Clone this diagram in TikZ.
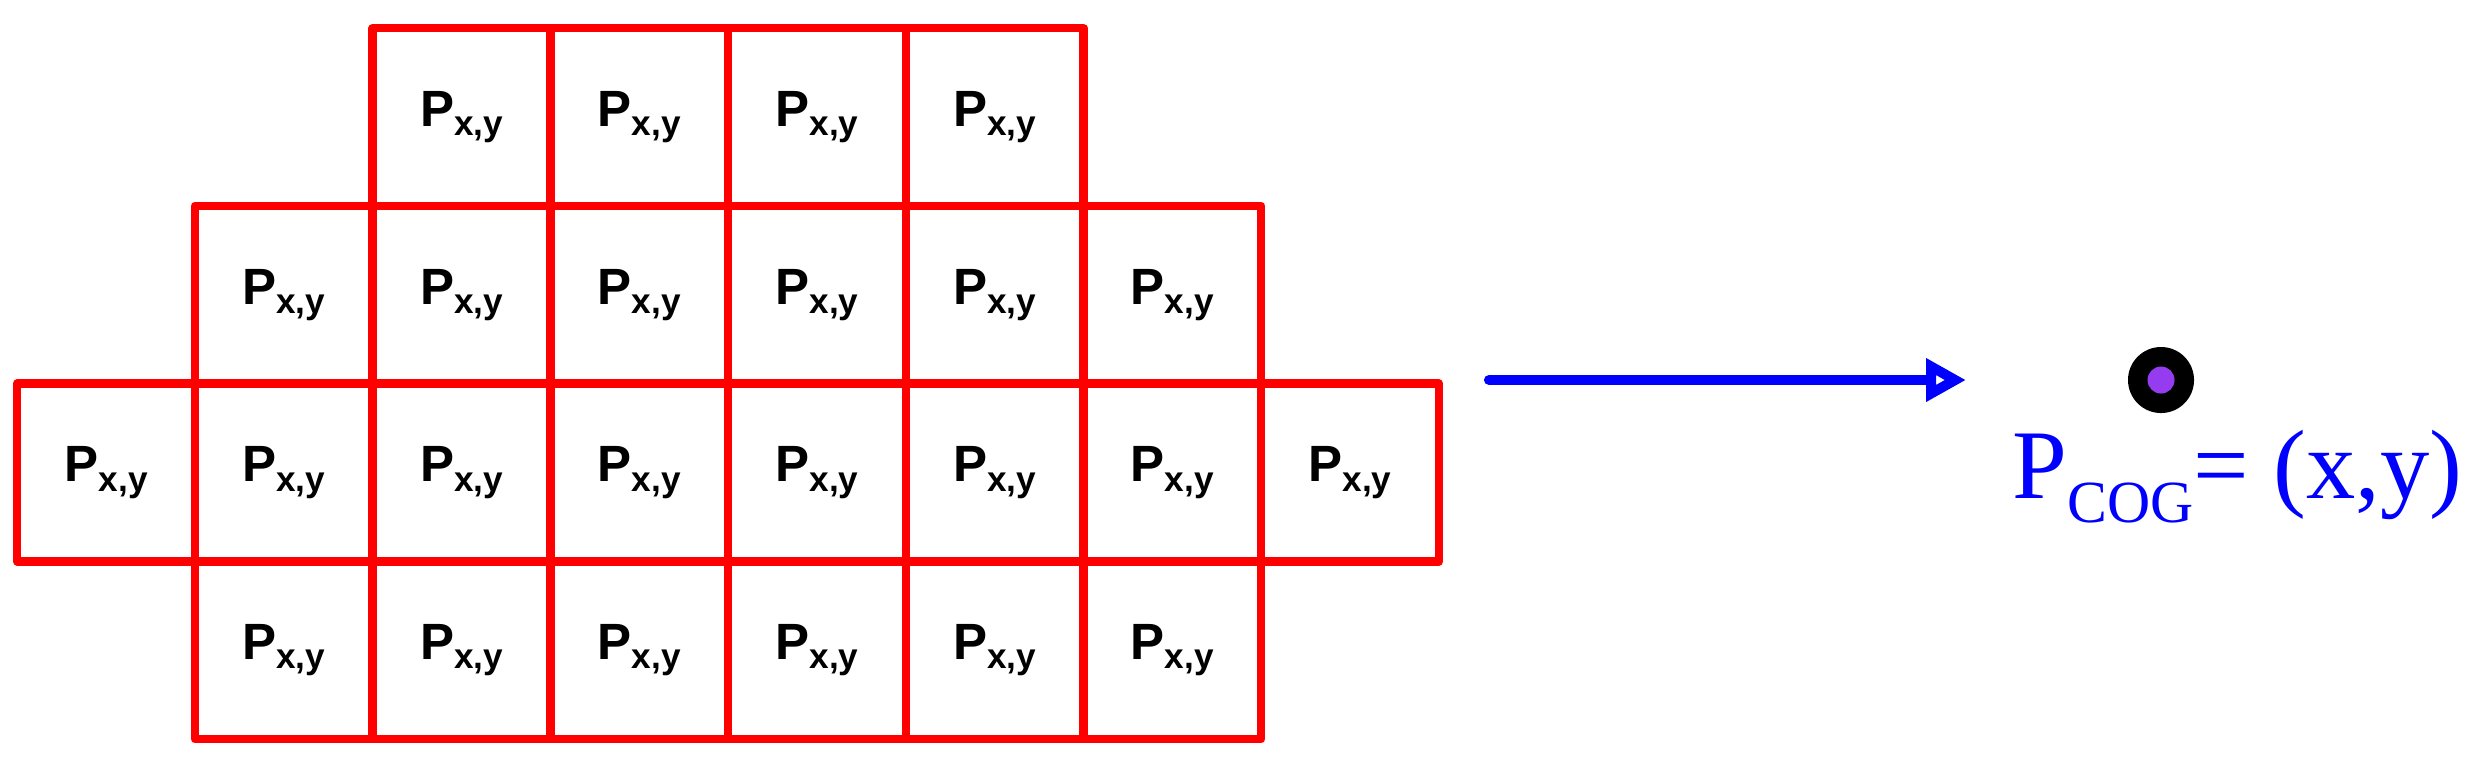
\documentclass[tikz,border=0pt]{standalone}
\usepackage{fontspec}
\setmainfont{Liberation Serif}
\newfontfamily\arialf{Liberation Sans}
\usetikzlibrary{arrows.meta}
\begin{document}
\begin{tikzpicture}[x=0.01cm,y=-0.01cm,
  cellbox/.style={draw=red,line width=2.4pt,minimum size=1.777cm,inner sep=0pt,anchor=north west,line join=round},
  lab/.style={font=\arialf\fontsize{14.5}{16}\bfseries\selectfont}]
\useasboundingbox (0,0) rectangle (2482,756);
\newcommand{\pxy}{P\raisebox{-0.35ex}{\fontsize{10}{11}\selectfont x,y}}
\def\cw{177.7}
\foreach \r/\a/\b in {0/2/5,1/1/6,2/0/7,3/1/6}{
  \foreach \c in {\a,...,\b}{
    \node[cellbox] (c\r\c) at ({13+\c*\cw},{24+\r*\cw}) {};
    \node[lab] (t\r\c) at (c\r\c.center) {\pxy};
  }
}
\coordinate (as) at (1489,380);
\coordinate (ae) at (1966,380);
\draw[blue,line width=2.9pt,line cap=round,-{Triangle[length=40*0.01cm*1.0,width=41*0.01cm*1.0,open=false]}] (as) -- (ae);
\node[circle,fill=black,minimum size=0.66cm,inner sep=0pt] (dot) at (2161,380) {};
\node[circle,fill=violet!70!blue!60!magenta,fill={rgb,255:red,150;green,60;blue,240},minimum size=0.27cm,inner sep=0pt] (dotin) at (dot.center) {};
\node[blue,anchor=base west,inner sep=0pt,font=\fontsize{28}{30}\selectfont] (cog) at (2012,498) {P\raisebox{-0.55ex}{\fontsize{17}{18}\selectfont COG}= (x,y)};
\end{tikzpicture}
\end{document}
